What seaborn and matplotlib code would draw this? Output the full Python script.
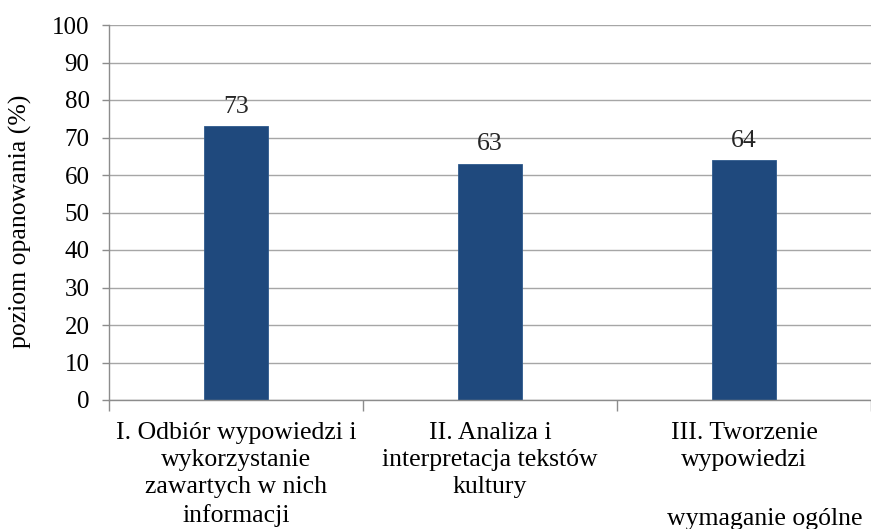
import pandas as pd
import numpy as np
import matplotlib.pyplot as plt
import seaborn as sns

categories = [
    "I. Odbiór wypowiedzi i\nwykorzystanie\nzawartych w nich\ninformacji",
    "II. Analiza i\ninterpretacja tekstów\nkultury",
    "III. Tworzenie\nwypowiedzi",
]
values = [73, 63, 64]

sns.set_theme(style="whitegrid")
plt.rcParams['font.family'] = ['Liberation Serif', 'DejaVu Serif']
plt.rcParams['font.size'] = 18.5

df = pd.DataFrame({"kategoria": categories, "wartosc": values})

fig = plt.figure(figsize=(8.71, 5.29), dpi=100)
ax = fig.add_axes([109 / 871, (529 - 400) / 529, 762 / 871, 375 / 529])
sns.barplot(data=df, x="kategoria", y="wartosc", color="#1F497D", width=0.25,
            saturation=1, edgecolor="#2E5A8C", linewidth=0.6, ax=ax)

ax.set_ylim(0, 100)
ax.set_xlim(-0.5, 2.5)
ax.set_yticks(np.arange(0, 101, 10))
ax.grid(axis="y", color="#A6A6A6", linewidth=1)
ax.grid(axis="x", visible=False)
ax.set_axisbelow(True)

for side in ["top", "right"]:
    ax.spines[side].set_visible(False)
for side in ["left", "bottom"]:
    ax.spines[side].set_color("#8C8C8C")
    ax.spines[side].set_linewidth(1)

ax.tick_params(axis="y", which="major", length=5, color="#8C8C8C", width=1,
               labelsize=18, labelcolor="black", pad=9, left=True)
ax.tick_params(axis="x", which="major", length=0, labelsize=18.5, labelcolor="black", pad=16)
ax.set_xticks([-0.5, 0.5, 1.5, 2.5], minor=True)
ax.tick_params(axis="x", which="minor", length=8, color="#8C8C8C", width=1, bottom=True)
for lbl in ax.get_xticklabels():
    lbl.set_linespacing(1.3)

ax.bar_label(ax.containers[0], fmt="%d", padding=6, fontsize=18.5)

ax.set_ylabel("poziom opanowania (%)", fontsize=18.5, color="black")
ax.yaxis.set_label_coords(-0.101, 0.476)
ax.set_xlabel("wymaganie ogólne", fontsize=18.5, color="black")
ax.xaxis.set_label_coords(0.86, -0.318)
ax.xaxis.label.set_va("center")

fig.savefig("out.png", dpi=100)
